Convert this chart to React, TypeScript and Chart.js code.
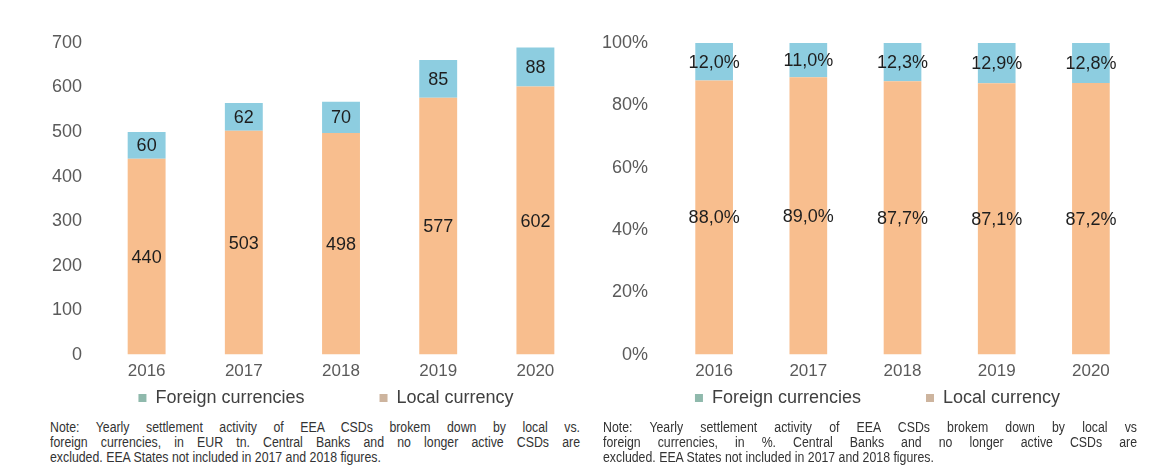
import React, { useEffect, useRef } from "react";
import { Chart, registerables } from "chart.js";

Chart.register(...registerables);

// ---------- data ----------
const years = ["2016", "2017", "2018", "2019", "2020"];
const localEurTn = [440, 503, 498, 577, 602];
const foreignEurTn = [60, 62, 70, 85, 88];
const localPct = [88.0, 89.0, 87.7, 87.1, 87.2];
const foreignPct = [12.0, 11.0, 12.3, 12.9, 12.8];
const seriesNames = ["Local currency", "Foreign currencies"];
const eurAxis = { max: 700, step: 100 };
const pctAxis = { max: 100, step: 20 };
const noteEur = [
  "Note: Yearly settlement activity of EEA CSDs brokem down by local vs.",
  "foreign currencies, in EUR tn. Central Banks and no longer active CSDs are",
  "excluded. EEA States not included in 2017 and 2018 figures.",
];
const notePct = [
  "Note: Yearly settlement activity of EEA CSDs brokem down by local vs",
  "foreign currencies, in %. Central Banks and no longer active CSDs are",
  "excluded. EEA States not included in 2017 and 2018 figures.",
];

// ---------- styles ----------
const FONT = "'Liberation Sans', Arial, sans-serif";
const ORANGE = "#F8BE8E";
const BLUE = "#8DCDE0";
const MARKS = ["#CDB49E", "#8FB9AC"];
const TICK_COLOR = "#5a5a5a";
const LABEL_COLOR = "#1e1e1e";
const NBSP = "\u00a0";

function makeLabelPlugin(format: (v: number) => string) {
  return {
    id: "barLabels",
    afterDatasetsDraw(chart: any) {
      const ctx = chart.ctx;
      ctx.save();
      ctx.font = `18px ${FONT}`;
      ctx.fillStyle = LABEL_COLOR;
      ctx.textAlign = "center";
      ctx.textBaseline = "middle";
      chart.data.datasets.forEach((ds: any, di: number) => {
        const meta = chart.getDatasetMeta(di);
        meta.data.forEach((el: any, i: number) => {
          const v = ds.data[i] as number;
          const p = el.getProps(["x", "y", "base"], true);
          ctx.fillText(format(v), p.x, (p.y + p.base) / 2 + 1);
        });
      });
      ctx.restore();
    },
  };
}

type ChartProps = {
  left: number;
  width: number;
  local: number[];
  foreign: number[];
  axis: { max: number; step: number };
  tickFmt: (v: number) => string;
  labelFmt: (v: number) => string;
  padLeft: number;
  padRight: number;
  tickPad: number;
  barPct: number;
  gap: number;
  tail: number;
};

const H = 417;

function StackedChart(p: ChartProps) {
  const ref = useRef<HTMLCanvasElement | null>(null);
  useEffect(() => {
    if (!ref.current) return;
    const chart = new Chart(ref.current, {
      type: "bar",
      data: {
        labels: years,
        datasets: [
          { label: seriesNames[0], data: p.local, backgroundColor: ORANGE, borderWidth: 0 },
          { label: seriesNames[1], data: p.foreign, backgroundColor: BLUE, borderWidth: 0 },
        ],
      },
      options: {
        animation: false,
        responsive: false,
        maintainAspectRatio: false,
        layout: { padding: { left: p.padLeft, right: p.padRight, top: 43, bottom: 0 } },
        datasets: { bar: { categoryPercentage: 1, barPercentage: p.barPct } },
        scales: {
          x: {
            stacked: true,
            grid: { display: false, drawTicks: false },
            border: { display: false },
            ticks: { color: TICK_COLOR, font: { size: 17, family: FONT }, padding: 7 },
          },
          y: {
            stacked: true,
            min: 0,
            max: p.axis.max,
            grid: { display: false, drawTicks: false },
            border: { display: false },
            ticks: {
              stepSize: p.axis.step,
              padding: p.tickPad,
              color: TICK_COLOR,
              font: { size: 18, family: FONT },
              callback: (v: any) => p.tickFmt(Number(v)),
            },
          },
        },
        plugins: {
          tooltip: { enabled: false },
          legend: {
            position: "bottom",
            reverse: true,
            fullSize: false,
            labels: {
              boxWidth: 8,
              boxHeight: 8,
              padding: 0,
              color: "#404040",
              font: { size: 18, family: FONT },
              generateLabels: (c: any) => {
                const items = (Chart.defaults.plugins.legend.labels as any).generateLabels(c);
                return items.map((it: any) => ({
                  ...it,
                  fillStyle: MARKS[it.datasetIndex],
                  strokeStyle: MARKS[it.datasetIndex],
                  lineWidth: 0,
                  text:
                    it.datasetIndex === 1
                      ? it.text + NBSP.repeat(p.gap)
                      : it.text + NBSP.repeat(p.tail),
                }));
              },
            },
          },
        },
      },
      plugins: [makeLabelPlugin(p.labelFmt)],
    } as any);
    return () => chart.destroy();
  }, []);
  return (
    <canvas
      ref={ref}
      width={p.width}
      height={H}
      style={{ position: "absolute", left: p.left, top: 0, width: p.width, height: H }}
    />
  );
}

const NOTE_SCALE = 0.88;

function Note({ left, width, lines }: { left: number; width: number; lines: string[] }) {
  return (
    <div
      style={{
        position: "absolute",
        left,
        top: 420,
        width: width / NOTE_SCALE,
        transform: `scaleX(${NOTE_SCALE})`,
        transformOrigin: "0 0",
        fontFamily: FONT,
        fontSize: 14,
        lineHeight: "15px",
        color: "#333",
      }}
    >
      {lines.map((l, i) => (
        <div
          key={i}
          style={{
            textAlign: "justify",
            textAlignLast: i < lines.length - 1 ? "justify" : "left",
            whiteSpace: "nowrap",
          }}
        >
          {l}
        </div>
      ))}
    </div>
  );
}

export default function App() {
  const pctLabel = (v: number) => v.toFixed(1).replace(".", ",") + "%";
  return (
    <div style={{ position: "absolute", left: 0, top: 0, width: 1153, height: 467, background: "#fff", overflow: "hidden" }}>
      <StackedChart
        left={0}
        width={590}
        local={localEurTn}
        foreign={foreignEurTn}
        axis={eurAxis}
        tickFmt={(v) => String(v)}
        labelFmt={(v) => String(v)}
        padLeft={36}
        padRight={6}
        tickPad={16}
        barPct={0.39}
        gap={15}
        tail={6}
      />
      <StackedChart
        left={570}
        width={583}
        local={localPct}
        foreign={foreignPct}
        axis={pctAxis}
        tickFmt={(v) => v + "%"}
        labelFmt={pctLabel}
        padLeft={13}
        padRight={15}
        tickPad={19}
        barPct={0.4}
        gap={13}
        tail={10}
      />
      <Note left={50} width={530} lines={noteEur} />
      <Note left={603} width={534} lines={notePct} />
    </div>
  );
}
